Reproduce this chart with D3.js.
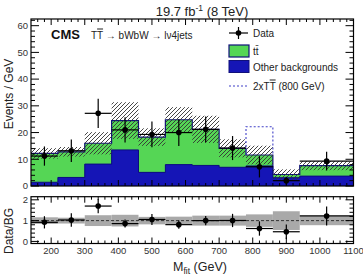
<!DOCTYPE html>
<html lang="en">
  <head>
    <meta charset="utf-8">
    <script type="text/javascript" src="https://cdn.jsdelivr.net/npm/d3@7"></script>
    <style>
      body { margin:0; background:#fff; }
      svg { font-family: "Liberation Sans", Arial, sans-serif; }
    </style>
  </head>
  <body>
    <svg class="chart"></svg>
  </body>
  <script type="text/javascript">
    // bin edges (GeV)
    var binEdges = [140,220,300,380,460,540,620,700,780,860,940,1100];
    // stacked backgrounds (events / GeV)
    var otherBkg = [1.4, 3.2, 8.2, 13.5, 5.1, 8.0, 7.7, 7.0, 7.5, 3.1, 3.7];
    var ttbar    = [10.8, 9.6, 7.8, 11.0, 13.2, 16.8, 13.5, 7.1, 4.1, 1.2, 3.9];
    var bkgRelErr = [0.16, 0.14, 0.26, 0.28, 0.18, 0.19, 0.24, 0.24, 0.30, 0.45, 0.22];
    // data
    var dataVals = [11.2, 13.2, 27.2, 21.0, 19.3, 20.0, 21.2, 14.2, 7.2, 2.0, 9.3];
    var dataErr  = [3.6, 4.2, 5.5, 4.7, 4.8, 5.0, 4.8, 4.5, 4.0, 1.5, 3.5];
    // 2 x T Tbar (800 GeV) stacked on the background
    var signal = [0, 0, 0, 0, 0, 0, 0, 0, 10.6, 0, 0];

    var xTicks = [200,300,400,500,600,700,800,900,1000,1100];
    var yTicks = [0,10,20,30,40,50,60];
    var rTicks = [0,1,2];

    var W = 363, H = 275;
    var svg = d3.select('.chart').attr('width',W).attr('height',H);

    var left = 31, right = 353.5;
    var main = {top:19, bottom:186};
    var rat = {top:196.7, bottom:243.5};

    var xScale = d3.scaleLinear().domain([140,1100]).range([left,right]);
    var yScale = d3.scaleLinear().domain([0,62.5]).range([main.bottom,main.top]);
    var rScale = d3.scaleLinear().domain([-0.1,2.15]).range([rat.bottom,rat.top]);

    var bins = otherBkg.map(function(o,i){
      var tot = o + ttbar[i];
      return {lo:binEdges[i], hi:binEdges[i+1], mid:(binEdges[i]+binEdges[i+1])/2,
              other:o, total:tot, err:tot*bkgRelErr[i], rel:bkgRelErr[i],
              data:dataVals[i], derr:dataErr[i], sig:signal[i]};
    });

    var defs = svg.append('defs');
    defs.append('pattern').attr('id','hatch').attr('patternUnits','userSpaceOnUse')
        .attr('width',4).attr('height',4)
        .append('path').attr('d','M-1,1 l2,-2 M0,4 l4,-4 M3,5 l2,-2')
        .attr('stroke','#333').attr('stroke-width',0.9);

    function stepPath(fn, scale){
      var p = '';
      bins.forEach(function(b,i){
        p += (i==0 ? 'M' : 'L') + xScale(b.lo) + ',' + scale(fn(b));
        p += 'L' + xScale(b.hi) + ',' + scale(fn(b));
      });
      return p;
    }

    var plot = svg.append('g').classed('plot',true);

    // stacked histograms
    plot.append('path')
        .attr('d', stepPath(function(b){return b.total},yScale) + 'L'+xScale(1100)+','+yScale(0)+'L'+xScale(140)+','+yScale(0)+'Z')
        .attr('fill','#55d655').attr('stroke','none');
    plot.append('path')
        .attr('d', stepPath(function(b){return b.other},yScale) + 'L'+xScale(1100)+','+yScale(0)+'L'+xScale(140)+','+yScale(0)+'Z')
        .attr('fill','#1515b6').attr('stroke','none');
    plot.append('path').attr('d', stepPath(function(b){return b.total},yScale))
        .attr('fill','none').attr('stroke','#10107a').attr('stroke-width',1.2);
    plot.append('path').attr('d', stepPath(function(b){return b.other},yScale))
        .attr('fill','none').attr('stroke','#0b0b80').attr('stroke-width',1);

    // hatched uncertainty
    plot.selectAll('rect.unc').data(bins).enter().append('rect').classed('unc',true)
        .attr('x',function(d){return xScale(d.lo)})
        .attr('width',function(d){return xScale(d.hi)-xScale(d.lo)})
        .attr('y',function(d){return yScale(d.total+d.err)})
        .attr('height',function(d){return yScale(d.total-d.err)-yScale(d.total+d.err)})
        .attr('fill','url(#hatch)');

    // signal dashed outline
    plot.selectAll('path.sig').data(bins.filter(function(d){return d.sig>0})).enter()
        .append('path').classed('sig',true)
        .attr('d',function(d){
          return 'M'+xScale(d.lo)+','+yScale(d.total)+'L'+xScale(d.lo)+','+yScale(d.total+d.sig)+
                 'L'+xScale(d.hi)+','+yScale(d.total+d.sig)+'L'+xScale(d.hi)+','+yScale(d.total);
        })
        .attr('fill','none').attr('stroke','#4040c8').attr('stroke-width',1.1).attr('stroke-dasharray','2,2');

    // data points
    var pts = plot.selectAll('g.pt').data(bins).enter().append('g').classed('pt',true);
    pts.append('line')
       .attr('x1',function(d){return xScale(d.lo)}).attr('x2',function(d){return xScale(d.hi)})
       .attr('y1',function(d){return yScale(d.data)}).attr('y2',function(d){return yScale(d.data)})
       .attr('stroke','black').attr('stroke-width',1.2);
    pts.append('line')
       .attr('x1',function(d){return xScale(d.mid)}).attr('x2',function(d){return xScale(d.mid)})
       .attr('y1',function(d){return yScale(d.data+d.derr)}).attr('y2',function(d){return yScale(Math.max(0,d.data-d.derr))})
       .attr('stroke','black').attr('stroke-width',1.2);
    pts.append('circle')
       .attr('cx',function(d){return xScale(d.mid)}).attr('cy',function(d){return yScale(d.data)})
       .attr('r',2.8).attr('fill','black');

    // ratio panel
    var rp = svg.append('g').classed('ratio',true);
    rp.selectAll('rect.band').data(bins).enter().append('rect').classed('band',true)
      .attr('x',function(d){return xScale(d.lo)})
      .attr('width',function(d){return xScale(d.hi)-xScale(d.lo)})
      .attr('y',function(d){return rScale(1+d.rel)})
      .attr('height',function(d){return rScale(1-d.rel)-rScale(1+d.rel)})
      .attr('fill','#a9a9a9');
    rp.append('line').attr('x1',left).attr('x2',right).attr('y1',rScale(1)).attr('y2',rScale(1))
      .attr('stroke','#333').attr('stroke-width',1).attr('stroke-dasharray','3,2');
    var rpts = rp.selectAll('g.rpt').data(bins).enter().append('g').classed('rpt',true);
    rpts.append('line')
       .attr('x1',function(d){return xScale(d.lo)}).attr('x2',function(d){return xScale(d.hi)})
       .attr('y1',function(d){return rScale(d.data/d.total)}).attr('y2',function(d){return rScale(d.data/d.total)})
       .attr('stroke','black').attr('stroke-width',1.2);
    rpts.append('line')
       .attr('x1',function(d){return xScale(d.mid)}).attr('x2',function(d){return xScale(d.mid)})
       .attr('y1',function(d){return rScale((d.data+d.derr)/d.total)}).attr('y2',function(d){return rScale((d.data-d.derr)/d.total)})
       .attr('stroke','black').attr('stroke-width',1.2);
    rpts.append('circle')
       .attr('cx',function(d){return xScale(d.mid)}).attr('cy',function(d){return rScale(d.data/d.total)})
       .attr('r',2.8).attr('fill','black');

    // frames and ticks (ROOT style, inward)
    function frame(top,bottom,yS,yMajor,yMinorStep){
      var g = svg.append('g');
      var xMinor = d3.range(160,1100,20);
      var yMinor = d3.range(0, yS.domain()[1], yMinorStep);
      var ticks = g.append('g').attr('stroke','black').attr('stroke-width',1);
      xMinor.forEach(function(v){
        var L = (v % 100 == 0) ? 6 : 3;
        ticks.append('line').attr('x1',xScale(v)).attr('x2',xScale(v)).attr('y1',bottom).attr('y2',bottom-L);
        ticks.append('line').attr('x1',xScale(v)).attr('x2',xScale(v)).attr('y1',top).attr('y2',top+L);
      });
      yMinor.forEach(function(v){
        var major = yMajor.some(function(m){return Math.abs(m-v)<1e-6});
        var L = major ? 8 : 4;
        ticks.append('line').attr('x1',left).attr('x2',left+L).attr('y1',yS(v)).attr('y2',yS(v));
        ticks.append('line').attr('x1',right).attr('x2',right-L).attr('y1',yS(v)).attr('y2',yS(v));
      });
      g.append('rect').attr('x',left).attr('y',top).attr('width',right-left).attr('height',bottom-top)
        .attr('fill','none').attr('stroke','black').attr('stroke-width',1.2);
      g.selectAll('text.yl').data(yMajor).enter().append('text').classed('yl',true)
        .attr('x',left-3).attr('y',function(d){return yS(d)+3.3})
        .attr('text-anchor','end').attr('font-size',9.5).attr('fill','#333').text(function(d){return d});
    }
    frame(main.top,main.bottom,yScale,yTicks,2);
    frame(rat.top,rat.bottom,rScale,rTicks,0.2);

    svg.append('g').selectAll('text').data(xTicks).enter().append('text')
       .attr('x',function(d){return xScale(d)}).attr('y',253.5)
       .attr('text-anchor','middle').attr('font-size',9.5).attr('fill','#333').text(function(d){return d});

    // axis titles
    svg.append('text').attr('transform','translate(13,94) rotate(-90)')
       .attr('text-anchor','middle').attr('font-size',12).attr('fill','#222').text('Events / GeV');
    svg.append('text').attr('transform','translate(13,231) rotate(-90)')
       .attr('text-anchor','middle').attr('font-size',12).attr('fill','#222').text('Data/BG');
    var xt = svg.append('text').attr('x',200).attr('y',271).attr('text-anchor','middle')
       .attr('font-size',12.5).attr('fill','#222');
    xt.append('tspan').text('M');
    xt.append('tspan').attr('font-size',8.5).attr('dy',3).text('fit');
    xt.append('tspan').attr('dy',-3).text(' (GeV)');

    // header
    var hd = svg.append('text').attr('x',202).attr('y',15.5).attr('text-anchor','middle')
       .attr('font-size',13).attr('fill','#222');
    hd.append('tspan').text('19.7 fb');
    hd.append('tspan').attr('font-size',8.5).attr('dy',-5).text('-1');
    hd.append('tspan').attr('dy',5).text(' (8 TeV)');
    svg.append('text').attr('x',51).attr('y',38.5).attr('font-size',13).attr('font-weight','bold')
       .attr('fill','#111').text('CMS');
    var proc = svg.append('text').attr('x',91).attr('y',38.5).attr('font-size',10).attr('fill','#222');
    proc.append('tspan').text('T');
    proc.append('tspan').attr('text-decoration','overline').text('T');
    proc.append('tspan').text(' \u2192 bWbW \u2192 l\u03bd4jets');

    // legend
    var lg = svg.append('g').classed('legend',true);
    lg.append('line').attr('x1',229).attr('x2',248).attr('y1',33).attr('y2',33).attr('stroke','black').attr('stroke-width',1.2);
    lg.append('line').attr('x1',238.5).attr('x2',238.5).attr('y1',27).attr('y2',39).attr('stroke','black').attr('stroke-width',1.2);
    lg.append('circle').attr('cx',238.5).attr('cy',33).attr('r',2.8).attr('fill','black');
    lg.append('rect').attr('x',229).attr('y',45).attr('width',20).attr('height',12)
      .attr('fill','#55d655').attr('stroke','#10107a').attr('stroke-width',1.2);
    lg.append('rect').attr('x',229).attr('y',60.5).attr('width',20).attr('height',12)
      .attr('fill','#1515b6').attr('stroke','#10107a').attr('stroke-width',1);
    lg.append('line').attr('x1',229).attr('x2',248).attr('y1',86).attr('y2',86)
      .attr('stroke','#4040c8').attr('stroke-width',1.1).attr('stroke-dasharray','2,2');
    var lt = [['Data',36.5],['t\u0074\u0304',54.5],['Other backgrounds',70.5]];
    lt.forEach(function(t){
      lg.append('text').attr('x',253).attr('y',t[1]).attr('font-size',10).attr('fill','#222').text(t[0]);
    });
    var sl = lg.append('text').attr('x',253).attr('y',89.5).attr('font-size',10).attr('fill','#222');
    sl.append('tspan').text('2xT');
    sl.append('tspan').attr('text-decoration','overline').text('T');
    sl.append('tspan').text(' (800 GeV)');
  </script>
</html>
